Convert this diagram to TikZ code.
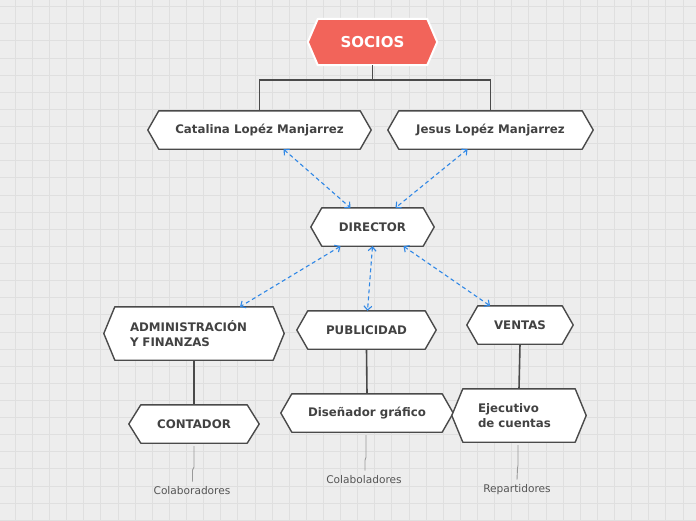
\documentclass[tikz,border=0pt]{standalone}
\usepackage{fontspec}
\setmainfont{DejaVu Sans}
\usepackage{tikz}
\usetikzlibrary{arrows.meta,backgrounds,calc}
\definecolor{paper}{HTML}{EDEDED}
\definecolor{gridline}{HTML}{DFDFDF}
\definecolor{edgegray}{HTML}{4A4A4A}
\definecolor{textgray}{HTML}{424242}
\definecolor{linkblue}{HTML}{2F87E6}
\definecolor{sociosred}{HTML}{F2645A}
\tikzset{
  hexbox/.style={rectangle, minimum height=38pt, inner sep=0pt,
    text=textgray, font=\bfseries\fontsize{11.8}{15}\selectfont},
  tallbox/.style={hexbox, minimum height=53pt, align=left, inner xsep=15pt},
  hexline/.style={draw=edgegray, line width=1.4pt, fill=white, line join=round},
  tree/.style={draw=edgegray, line width=1.6pt},
  leader/.style={draw=gray!80, line width=0.9pt},
  link/.style={draw=linkblue, line width=1.1pt, dash pattern=on 4pt off 3pt,
    {Straight Barb[length=4pt,width=8pt]}-{Straight Barb[length=4pt,width=8pt]}},
  note/.style={text=textgray!90, font=\fontsize{10.6}{12}\selectfont, inner sep=1pt}
}
% hexagon round a node: corners of the node, points inset by #3
\newcommand{\drawhex}[3][]{%
  \path[hexline,#1] (#2.north west) -- (#2.north east) -- ([xshift=#3]#2.east)
    -- (#2.south east) -- (#2.south west) -- ([xshift=-#3]#2.west) -- cycle;}

\begin{document}
\begin{tikzpicture}[x=1pt,y=-1pt]
    \useasboundingbox (0,0) rectangle (696,520);
    % Nodes
    \node[hexbox, minimum width=109pt, minimum height=46pt, text=white,
      font=\bfseries\fontsize{15}{18}\selectfont] (socios) at (372.5,42) {SOCIOS};
    \node[hexbox, minimum width=201pt] (cat) at (259.5,130) {Catalina Lopéz Manjarrez};
    \node[hexbox, minimum width=183pt] (jes) at (490.5,130) {Jesus Lopéz Manjarrez};
    \node[hexbox, minimum width=101pt] (dir) at (372.5,227) {DIRECTOR};
    \node[tallbox, text width=128pt] (adm) at (194,333.5) {ADMINISTRACIÓN\\Y FINANZAS};
    \node[hexbox, minimum width=117pt] (pub) at (366.5,330) {PUBLICIDAD};
    \node[hexbox, minimum width=84pt] (ven) at (520,325) {VENTAS};
    \node[hexbox, minimum width=106pt] (con) at (194,424) {CONTADOR};
    \node[hexbox, minimum width=150pt] (dis) at (367,413) {Diseñador gráfico};
    \node[tallbox, text width=82pt] (eje) at (519,415.5) {Ejecutivo\\de cuentas};
    % Notes
    \node[note] (colab) at (192,491) {Colaboradores};
    \node[note] (colob) at (364,480) {Colaboladores};
    \node[note] (repar) at (517,490) {Repartidores};
    % Grid and shapes
    \begin{pgfonlayer}{background}
      \fill[paper] (0,0) rectangle (696,520);
      \foreach \i in {0,...,40}
        \draw[gridline, line width=0.9pt] (15.3+\i*17.12,0) -- ++(0,520);
      \foreach \i in {0,...,30}
        \draw[gridline, line width=0.9pt] (0,6.7+\i*17.12) -- ++(696,0);
      \drawhex[fill=sociosred, draw=white, line width=2pt]{socios}{10pt}
      \foreach \n in {cat,jes,dir,adm,pub,ven,dis,eje}
        {\drawhex{\n}{11pt}}
      \drawhex{con}{12pt}
    \end{pgfonlayer}
    % Tree
    \draw[tree] (socios.south) -- ++(0,15) -| (cat.north);
    \draw[tree] (socios.south) -- ++(0,15) -| (jes.north);
    \draw[tree] (adm.south) -- (con.north);
    \draw[tree] (pub.south) -- (dis.north);
    \draw[tree] (ven.south) -- (eje.north);
    % Links
    \draw[link] ([xshift=24pt]cat.south) -- ([xshift=-22pt]dir.north);
    \draw[link] ([xshift=-23pt]jes.south) -- ([xshift=23pt]dir.north);
    \draw[link] ([xshift=-32pt]dir.south) -- ([xshift=46pt]adm.north);
    \draw[link] (dir.south) -- ([xshift=1pt]pub.north);
    \draw[link] ([xshift=31pt]dir.south) -- ([xshift=-30pt]ven.north);
    % Leaders
    \draw[leader] ([yshift=-3pt]con.south) -- ++(0,21) -- ++(-1.5,3) -- ([xshift=0.5pt,yshift=4pt]colab.north);
    \draw[leader] ([xshift=-1pt,yshift=-3pt]dis.south) -- ++(0,22) -- ++(-1,3) -- ([xshift=1pt,yshift=4pt]colob.north);
    \draw[leader] ([xshift=-1pt,yshift=-3pt]eje.south) -- ++(0,20) -- ++(-0.5,3) -- ([yshift=4pt]repar.north);
  \end{tikzpicture}
\end{document}
